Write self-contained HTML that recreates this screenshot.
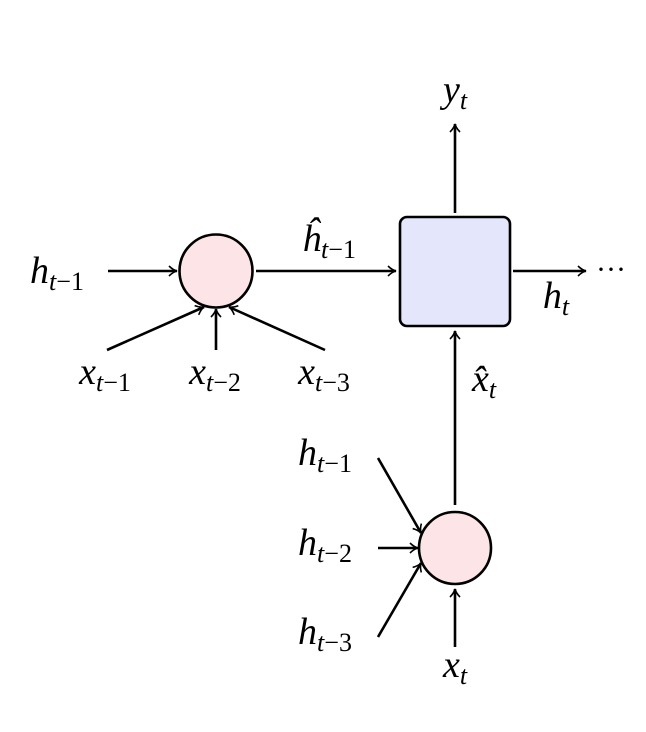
<!DOCTYPE html>
<html><head><style>body{margin:0;background:#fff} text{font-family:"Liberation Serif","DejaVu Serif",serif}</style></head><body>
<svg width="646" height="727" viewBox="0 0 646 727" xmlns="http://www.w3.org/2000/svg">
<defs><marker id="a" markerWidth="12" markerHeight="12" refX="10" refY="6" orient="auto" markerUnits="userSpaceOnUse"><path d="M2,1 Q6,5 10,6 Q6,7 2,11" fill="none" stroke="#000" stroke-width="1.6"/></marker></defs>
<g stroke="#000" stroke-width="2.6" fill="none">
<circle cx="216" cy="271" r="36.5" fill="#fde4e6"/>
<rect x="400" y="217" width="110" height="109" rx="7" fill="#e4e6fc"/>
<circle cx="455" cy="548" r="36" fill="#fde4e6"/>
<g marker-end="url(#a)">
<line x1="108" y1="271" x2="177" y2="271"/>
<line x1="256" y1="271" x2="396" y2="271"/>
<line x1="513" y1="271" x2="586" y2="271"/>
<line x1="455" y1="213" x2="455" y2="124"/>
<line x1="455" y1="505" x2="455" y2="331"/>
<line x1="107" y1="350" x2="204" y2="307"/>
<line x1="216" y1="350" x2="216" y2="309"/>
<line x1="325" y1="350" x2="229" y2="307"/>
<line x1="378" y1="458" x2="421" y2="533"/>
<line x1="378" y1="548" x2="418" y2="548"/>
<line x1="378" y1="637" x2="421" y2="563"/>
<line x1="455" y1="647" x2="455" y2="589"/>
</g></g>
<g font-size="38" fill="#000" text-anchor="middle">
<text x="57" y="283"><tspan font-style="italic">h</tspan><tspan font-size="26" dy="7"><tspan font-style="italic">t</tspan>−1</tspan></text>
<text x="329" y="251"><tspan font-style="italic">ĥ</tspan><tspan font-size="26" dy="7"><tspan font-style="italic">t</tspan>−1</tspan></text>
<text x="455" y="102"><tspan font-style="italic">y</tspan><tspan font-size="26" dy="7" font-style="italic">t</tspan></text>
<text x="556" y="308"><tspan font-style="italic">h</tspan><tspan font-size="26" dy="7" font-style="italic">t</tspan></text>
<text x="611" y="279" font-size="30">···</text>
<text x="484" y="391"><tspan font-style="italic">x̂</tspan><tspan font-size="26" dy="7" font-style="italic">t</tspan></text>
<text x="105" y="384"><tspan font-style="italic">x</tspan><tspan font-size="26" dy="7"><tspan font-style="italic">t</tspan>−1</tspan></text>
<text x="215" y="384"><tspan font-style="italic">x</tspan><tspan font-size="26" dy="7"><tspan font-style="italic">t</tspan>−2</tspan></text>
<text x="324" y="384"><tspan font-style="italic">x</tspan><tspan font-size="26" dy="7"><tspan font-style="italic">t</tspan>−3</tspan></text>
<text x="325" y="465"><tspan font-style="italic">h</tspan><tspan font-size="26" dy="7"><tspan font-style="italic">t</tspan>−1</tspan></text>
<text x="325" y="555"><tspan font-style="italic">h</tspan><tspan font-size="26" dy="7"><tspan font-style="italic">t</tspan>−2</tspan></text>
<text x="325" y="644"><tspan font-style="italic">h</tspan><tspan font-size="26" dy="7"><tspan font-style="italic">t</tspan>−3</tspan></text>
<text x="455" y="677"><tspan font-style="italic">x</tspan><tspan font-size="26" dy="7" font-style="italic">t</tspan></text>
</g>
</svg>
</body></html>
